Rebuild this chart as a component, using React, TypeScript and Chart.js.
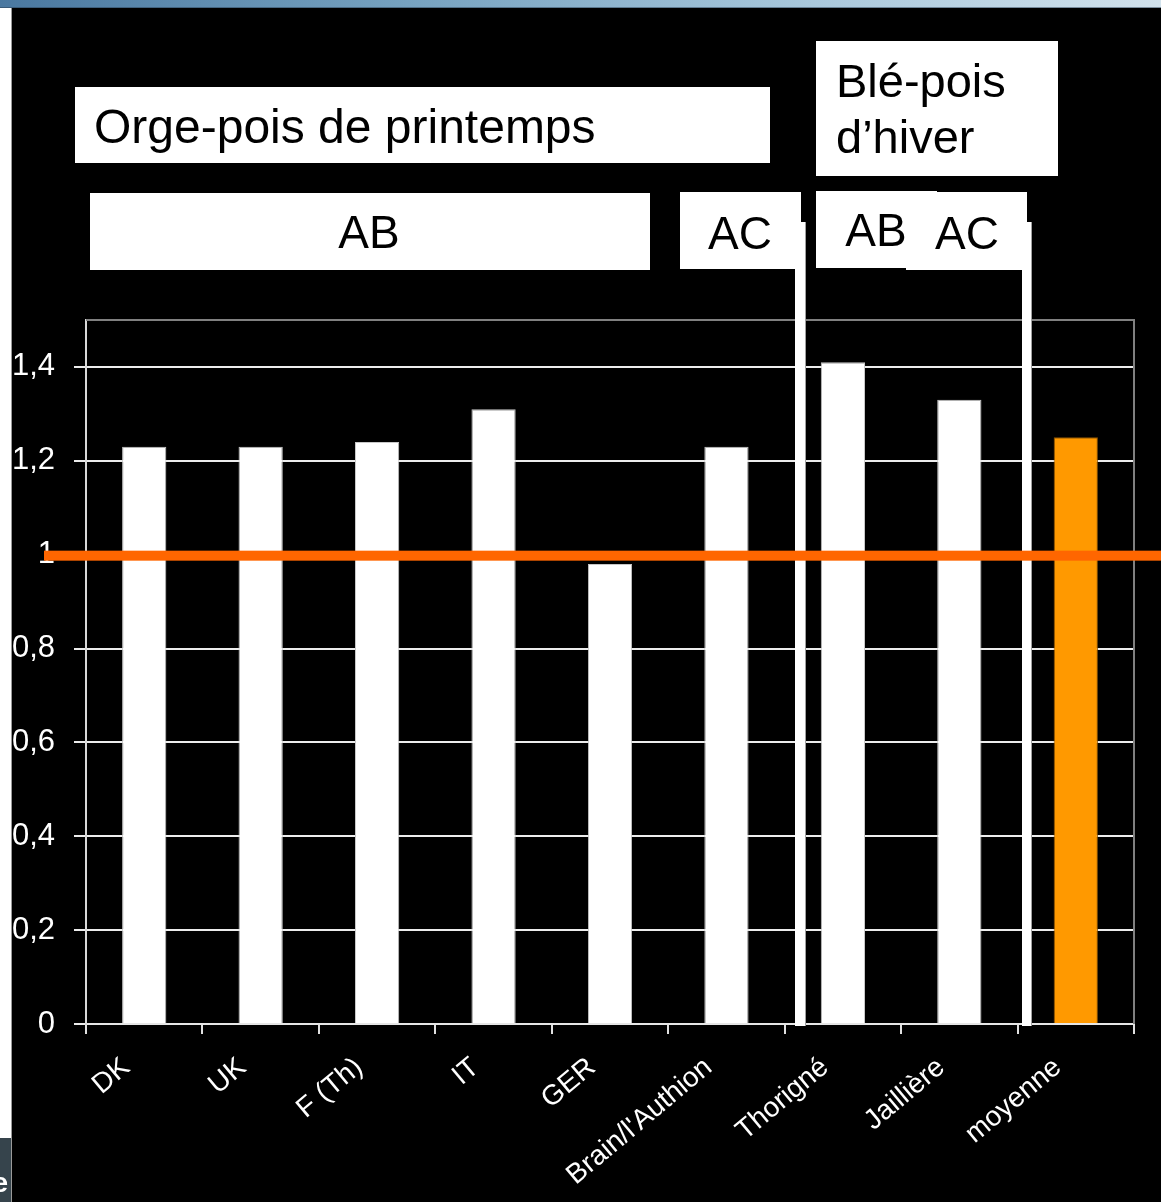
import React, { useEffect, useRef } from 'react';
import { Chart, registerables } from 'chart.js';

Chart.register(...registerables);

const FONT = '"Liberation Sans", Arial, sans-serif';

// ---- data ----
const categories = ['DK', 'UK', 'F (Th)', 'IT', 'GER', "Brain/l'Authion", 'Thorigné', 'Jaillière', 'moyenne'];
const ratioValues = [1.23, 1.23, 1.24, 1.31, 0.98, 1.23, 1.41, 1.33, 1.25];
const barFill = ['#ffffff', '#ffffff', '#ffffff', '#ffffff', '#ffffff', '#ffffff', '#ffffff', '#ffffff', '#ff9900'];
const barEdge = ['#c8c8c8', '#c8c8c8', '#c8c8c8', '#c8c8c8', '#c8c8c8', '#c8c8c8', '#c8c8c8', '#c8c8c8', '#8a5200'];
const yMin = 0;
const yMax = 1.5;
const yStep = 0.2;
const referenceLevel = 1;

// ---- slide annotations (text boxes) ----
const groupBoxes = [
  { x: 75, y: 87, w: 695, h: 76, lines: ['Orge-pois de printemps'], size: 48, align: 'left', tx: 94, ty: [143] },
  { x: 816, y: 41, w: 242, h: 135, lines: ['Blé-pois', 'd’hiver'], size: 47, align: 'left', tx: 836, ty: [97, 153] },
  { x: 90, y: 193, w: 560, h: 77, lines: ['AB'], size: 46, align: 'center', tx: 369, ty: [248] },
  { x: 680, y: 192, w: 121, h: 77, lines: ['AC'], size: 46, align: 'center', tx: 740, ty: [249] },
  { x: 816, y: 191, w: 121, h: 77, lines: ['AB'], size: 46, align: 'center', tx: 876, ty: [246] },
  { x: 906, y: 192, w: 121, h: 78, lines: ['AC'], size: 46, align: 'center', tx: 967, ty: [249] },
];
const separators = [
  { x: 795, w: 11, top: 222 },
  { x: 1022, w: 10, top: 222 },
];

function fmt(v: number): string {
  return String(Number(v.toFixed(1))).replace('.', ',');
}

export default function App() {
  const ref = useRef<HTMLCanvasElement>(null);

  useEffect(() => {
    const canvas = ref.current;
    if (!canvas) return;

    const decor = {
      id: 'decor',
      beforeDraw(chart: any) {
        const ctx = chart.ctx;
        ctx.save();
        ctx.fillStyle = '#000000';
        ctx.fillRect(0, 0, chart.width, chart.height);
        ctx.restore();
      },
      afterDraw(chart: any) {
        const ctx = chart.ctx;
        const a = chart.chartArea;
        const ys = chart.scales.y;
        ctx.save();
        // plot frame top / right (grey)
        ctx.strokeStyle = '#808080';
        ctx.lineWidth = 2;
        ctx.beginPath();
        ctx.moveTo(a.left, a.top);
        ctx.lineTo(a.right, a.top);
        ctx.lineTo(a.right, a.bottom);
        ctx.stroke();

        // white separator lines
        for (const s of separators) {
          ctx.fillStyle = '#ffffff';
          ctx.fillRect(s.x, s.top, s.w, a.bottom + 2 - s.top);
          ctx.fillStyle = '#a0a0a0';
          ctx.fillRect(s.x + s.w - 1, s.top, 1, a.bottom + 2 - s.top);
        }

        // reference line at 1
        const yRef = ys.getPixelForValue(referenceLevel);
        ctx.fillStyle = '#ff6600';
        ctx.fillRect(44, yRef - 4, chart.width - 44, 10);

        // text boxes
        for (const b of groupBoxes) {
          ctx.fillStyle = '#ffffff';
          ctx.fillRect(b.x, b.y, b.w, b.h);
        }
        for (const b of groupBoxes) {
          ctx.fillStyle = '#000000';
          ctx.font = `${b.size}px ${FONT}`;
          ctx.textAlign = b.align as CanvasTextAlign;
          ctx.textBaseline = 'alphabetic';
          b.lines.forEach((t, i) => ctx.fillText(t, b.tx, b.ty[i]));
        }

        // slide chrome: top gradient strip
        const g = ctx.createLinearGradient(0, 0, chart.width, 0);
        g.addColorStop(0, '#4a78a0');
        g.addColorStop(0.35, '#76a2c0');
        g.addColorStop(0.7, '#a9c8dc');
        g.addColorStop(1, '#d2e2ec');
        ctx.fillStyle = g;
        ctx.fillRect(0, 0, chart.width, 8);
        ctx.fillStyle = 'rgba(40,60,80,0.5)';
        ctx.fillRect(0, 7, chart.width, 1);
        // left white strip
        ctx.fillStyle = '#ffffff';
        ctx.fillRect(0, 8, 11, 1130);
        ctx.fillStyle = '#9a9a9a';
        ctx.fillRect(11, 8, 1, 1194);
        // bottom-left dark corner with cut text
        ctx.fillStyle = '#36444c';
        ctx.fillRect(0, 1138, 11, 64);
        ctx.fillStyle = '#ffffff';
        ctx.font = `bold 28px ${FONT}`;
        ctx.textAlign = 'right';
        ctx.fillText('e', 8, 1192);
        ctx.restore();
      },
    };

    const chart = new Chart(canvas, {
      type: 'bar',
      data: {
        labels: categories,
        datasets: [
          {
            data: ratioValues,
            backgroundColor: barFill,
            borderColor: barEdge,
            borderWidth: 1,
            categoryPercentage: 1,
            barPercentage: 0.38,
          },
        ],
      },
      options: {
        responsive: false,
        animation: false,
        devicePixelRatio: 1,
        layout: { padding: { top: 320, right: 27, bottom: 0, left: 0 } },
        plugins: { legend: { display: false }, tooltip: { enabled: false } },
        scales: {
          x: {
            offset: true,
            afterFit: (s: any) => { s.height = 178; },
            grid: {
              offset: true,
              drawOnChartArea: false,
              drawTicks: true,
              tickLength: 10,
              color: '#e0e0e0',
              lineWidth: 2,
            },
            border: { display: true, color: '#e6e6e6', width: 2 },
            ticks: {
              color: '#ffffff',
              font: { family: FONT, size: 28 },
              maxRotation: 40,
              minRotation: 40,
              autoSkip: false,
              padding: 17,
              labelOffset: -18,
            },
          },
          y: {
            min: yMin,
            max: yMax,
            afterFit: (s: any) => { s.width = 86; },
            grid: {
              color: (c: any) => (c.tick && c.tick.value > 1.45 ? 'rgba(0,0,0,0)' : '#ececec'),
              lineWidth: 2,
              tickLength: 12,
            },
            border: { display: true, color: '#d8d8d8', width: 2 },
            ticks: {
              stepSize: yStep,
              color: '#ffffff',
              font: { family: FONT, size: 31 },
              padding: 19,
              callback: (v: any) => (Number(v) > 1.45 ? '' : fmt(Number(v))),
            },
          },
        },
      },
      plugins: [decor],
    });

    return () => chart.destroy();
  }, []);

  return (
    <div style={{ position: 'absolute', left: 0, top: 0, width: 1161, height: 1202, overflow: 'hidden', background: '#000' }}>
      <canvas ref={ref} width={1161} height={1202} style={{ display: 'block' }} />
    </div>
  );
}
